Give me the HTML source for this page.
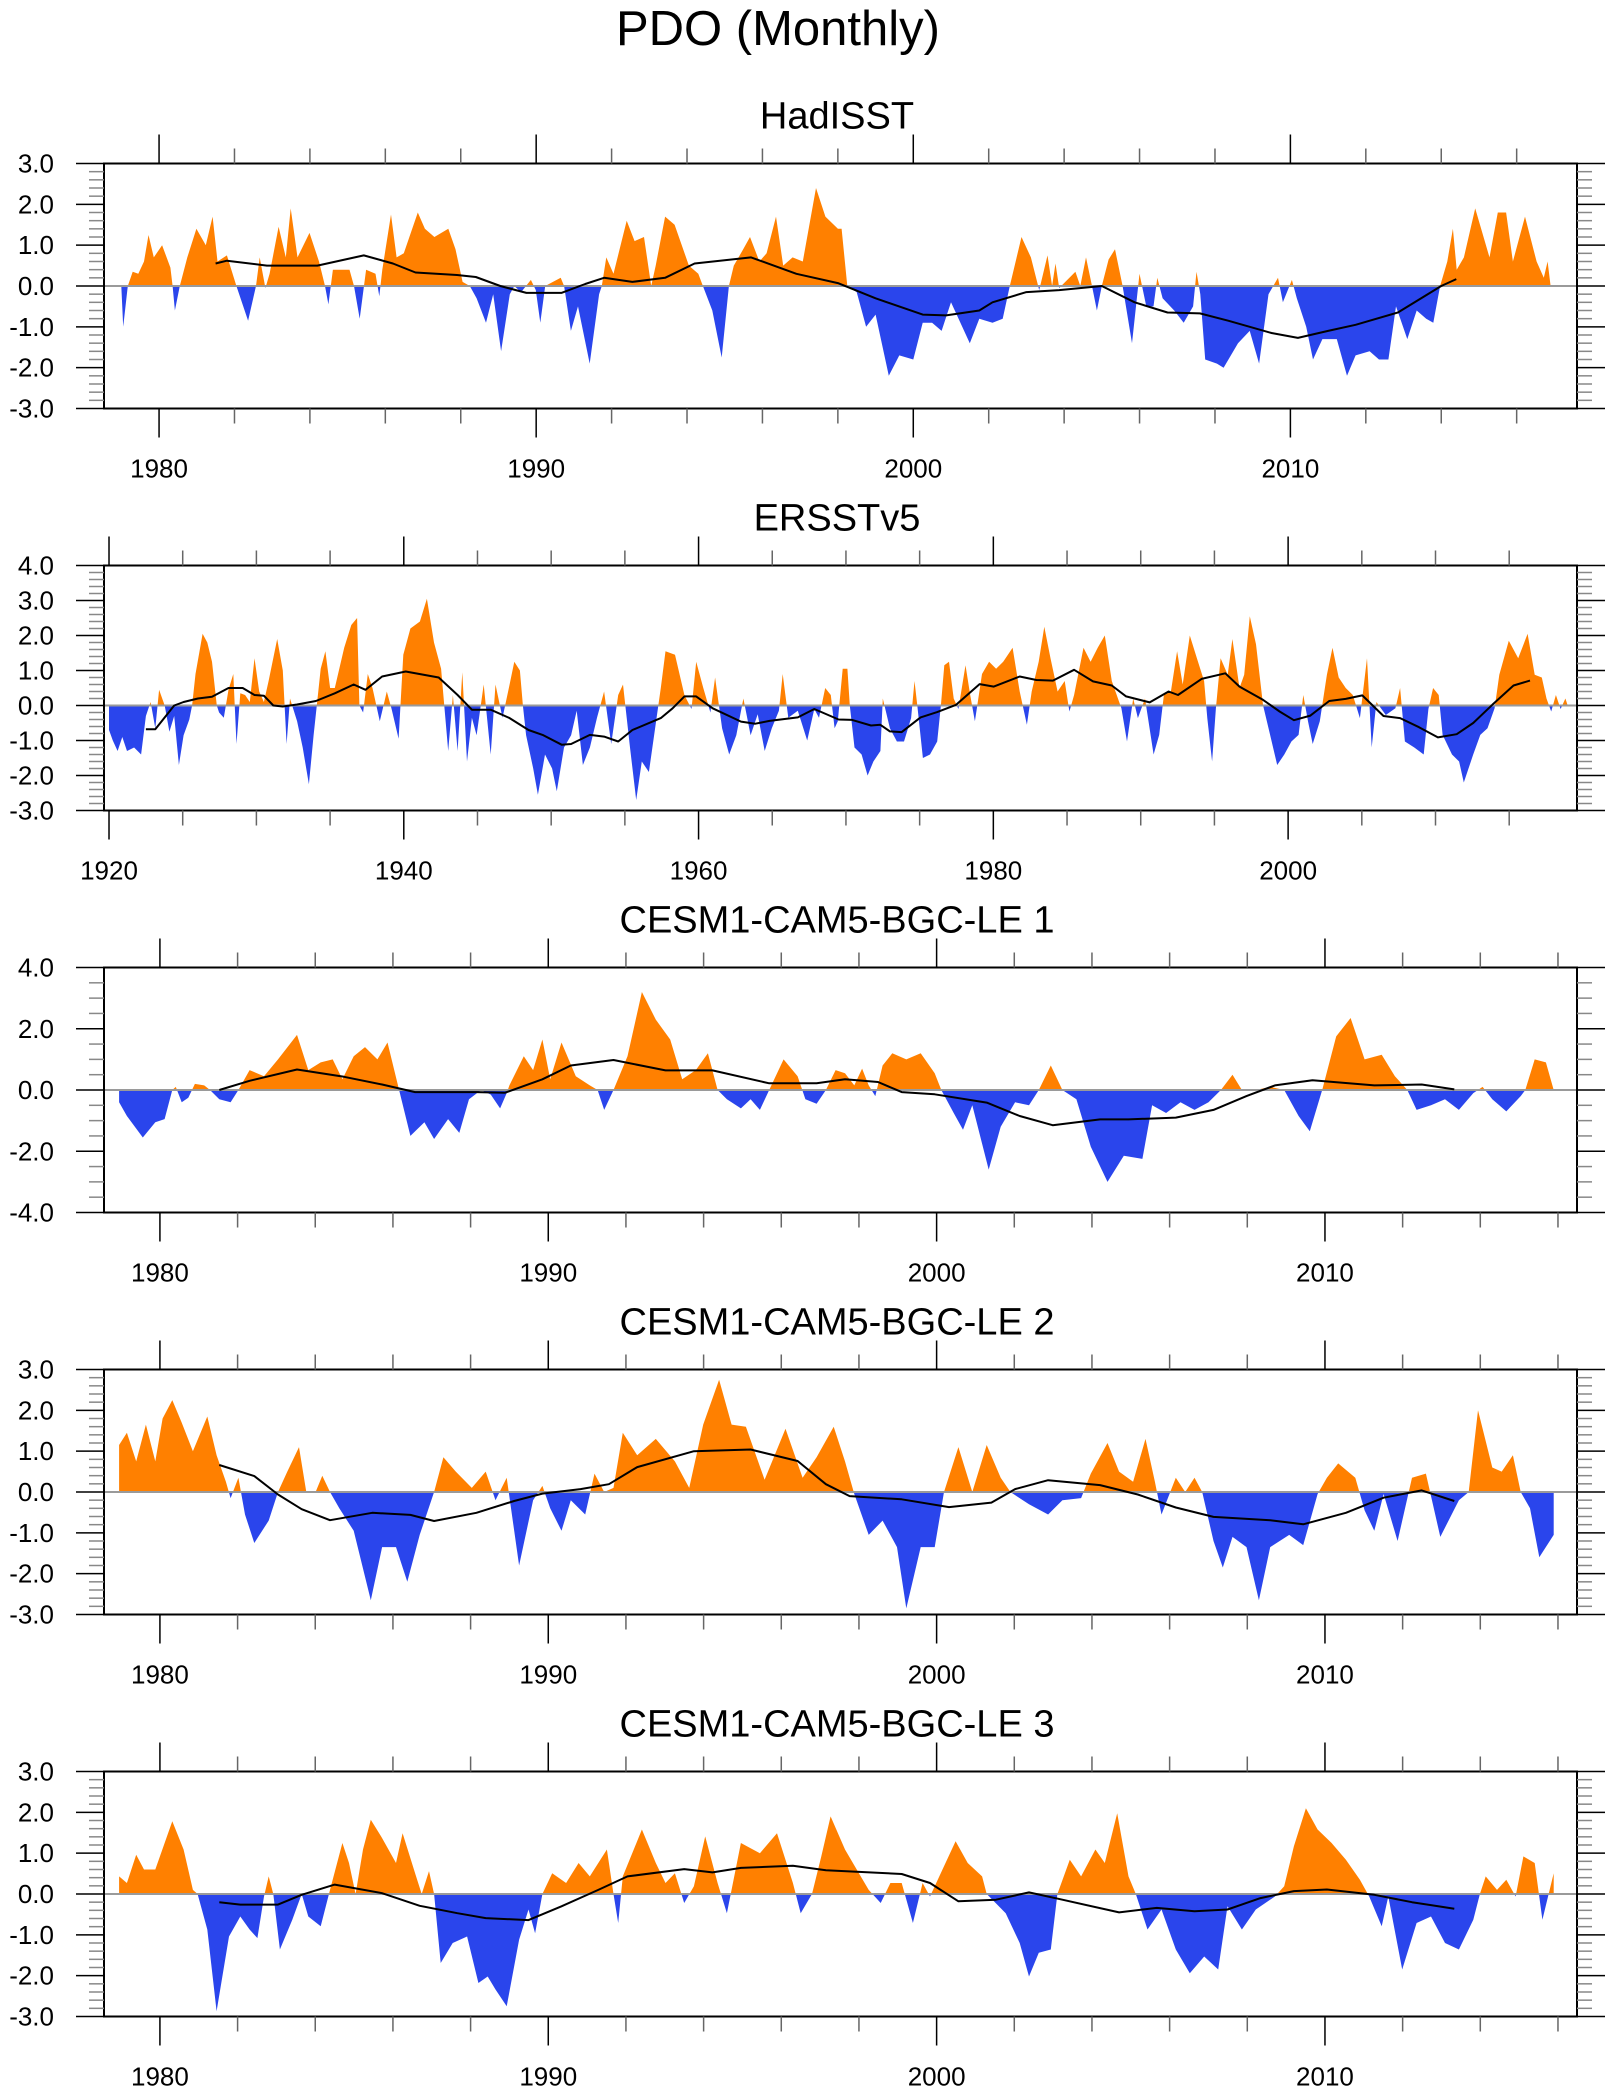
<!DOCTYPE html>
<html><head><meta charset="utf-8"><title>PDO (Monthly)</title>
<style>
html,body{margin:0;padding:0;background:#fff;}
svg{display:block;font-family:"Liberation Sans",Arial,sans-serif;}
</style></head>
<body>
<svg id="chart" width="1615" height="2097" viewBox="0 0 1615 2097" xmlns="http://www.w3.org/2000/svg">
<text x="778" y="45" font-size="49" text-anchor="middle">PDO (Monthly)</text>
</svg>
<script>
// ---------- HadISST ----------
const p1Times=[1979.0,1979.05,1979.17,1979.3,1979.45,1979.6,1979.72,1979.86,1980.08,1980.3,1980.36,1980.42,1980.55,1980.75,1980.99,1981.24,1981.42,1981.55,1981.8,1982.05,1982.36,1982.57,1982.67,1982.82,1982.93,1983.17,1983.36,1983.49,1983.67,1983.99,1984.24,1984.4,1984.49,1984.61,1985.05,1985.17,1985.32,1985.49,1985.74,1985.84,1985.92,1986.15,1986.3,1986.49,1986.86,1987.05,1987.3,1987.67,1987.86,1988.05,1988.24,1988.42,1988.67,1988.86,1989.07,1989.3,1989.42,1989.6,1989.86,1989.99,1990.11,1990.24,1990.65,1990.74,1990.92,1991.11,1991.42,1991.67,1991.74,1991.86,1992.05,1992.4,1992.61,1992.86,1993.05,1993.17,1993.42,1993.67,1994.05,1994.3,1994.42,1994.67,1994.92,1995.11,1995.24,1995.49,1995.67,1995.92,1996.11,1996.36,1996.55,1996.8,1997.07,1997.42,1997.67,1998.0,1998.1,1998.25,1998.5,1998.75,1999.0,1999.35,1999.63,2000.0,2000.25,2000.5,2000.75,2001.0,2001.25,2001.5,2001.75,2002.1,2002.37,2002.56,2002.87,2003.12,2003.34,2003.56,2003.68,2003.77,2003.87,2004.3,2004.43,2004.58,2004.74,2004.87,2005.0,2005.18,2005.35,2005.55,2005.8,2006.0,2006.18,2006.37,2006.47,2006.61,2006.92,2007.17,2007.42,2007.51,2007.61,2007.74,2008.05,2008.23,2008.61,2008.92,2009.17,2009.42,2009.67,2009.8,2010.04,2010.17,2010.42,2010.6,2010.85,2011.23,2011.5,2011.73,2012.1,2012.35,2012.6,2012.8,2013.1,2013.35,2013.6,2013.79,2013.97,2014.16,2014.31,2014.41,2014.6,2014.9,2015.28,2015.5,2015.72,2015.9,2016.22,2016.53,2016.72,2016.82,2016.9];
const p1Values=[0,-1.0,0,0.35,0.3,0.6,1.25,0.7,1.0,0.45,0,-0.6,0,0.7,1.4,1.0,1.7,0.6,0.75,0,-0.85,0,0.7,-0.05,0.3,1.45,0.7,1.9,0.7,1.3,0.6,0,-0.45,0.4,0.4,0,-0.8,0.4,0.3,-0.25,0.4,1.75,0.7,0.8,1.8,1.4,1.2,1.4,0.9,0.1,0,-0.3,-0.9,-0.2,-1.6,-0.2,0,-0.15,0.15,-0.1,-0.9,0,0.2,0,-1.1,-0.5,-1.9,-0.2,0,0.7,0.3,1.6,1.1,1.2,0,0.5,1.7,1.5,0.5,0.3,0,-0.6,-1.75,0,0.5,0.9,1.2,0.6,0.8,1.7,0.5,0.7,0.6,2.4,1.7,1.4,1.4,0,-0.15,-1.0,-0.7,-2.2,-1.7,-1.8,-0.9,-0.9,-1.1,-0.4,-0.9,-1.4,-0.8,-0.9,-0.8,0,1.2,0.7,-0.1,0.75,0,0.55,-0.05,0.35,0,0.7,0,-0.6,0,0.65,0.9,0,-1.4,0.3,-0.5,-0.5,0.2,-0.3,-0.6,-0.9,-0.5,0.35,-0.2,-1.8,-1.9,-2.0,-1.4,-1.1,-1.9,-0.2,0.2,-0.4,0.15,-0.3,-1.0,-1.8,-1.3,-1.3,-2.2,-1.7,-1.6,-1.8,-1.8,-0.5,-1.3,-0.6,-0.8,-0.9,0,0.6,1.4,0.4,0.7,1.9,0.7,1.8,1.8,0.6,1.7,0.6,0.2,0.6,0];
const p1SmoothTimes=[1981.5,1981.8,1982.86,1984.2,1985.43,1986.2,1986.8,1987.9,1988.4,1989.05,1989.74,1990.67,1991.3,1991.8,1992.55,1993.42,1994.2,1995.7,1996.9,1998.0,1999.0,2000.25,2000.87,2001.75,2002.1,2003.0,2003.87,2005.0,2005.87,2006.74,2007.6,2008.35,2009.5,2010.2,2011.0,2011.73,2012.85,2014.0,2014.4];
const p1SmoothValues=[0.55,0.62,0.5,0.5,0.75,0.55,0.33,0.27,0.22,0.0,-0.17,-0.17,0.05,0.2,0.1,0.2,0.55,0.7,0.3,0.07,-0.3,-0.7,-0.72,-0.6,-0.4,-0.15,-0.1,0.0,-0.4,-0.65,-0.67,-0.85,-1.15,-1.27,-1.1,-0.95,-0.65,0.0,0.17];

// ---------- ERSSTv5 ----------
const p2Times=[1920.0,1920.26,1920.58,1920.9,1921.22,1921.7,1922.18,1922.5,1922.82,1923.14,1923.4,1923.78,1924.1,1924.42,1924.74,1925.06,1925.45,1925.64,1925.87,1926.35,1926.67,1926.99,1927.31,1927.47,1927.79,1928.11,1928.43,1928.65,1928.91,1929.23,1929.55,1929.87,1930.19,1930.51,1930.83,1931.41,1931.79,1932.05,1932.28,1932.76,1933.14,1933.56,1933.88,1934.1,1934.36,1934.68,1935.0,1935.32,1935.96,1936.44,1936.83,1936.99,1937.24,1937.56,1937.88,1938.37,1938.85,1939.17,1939.65,1939.97,1940.45,1941.09,1941.57,1942.05,1942.53,1943.01,1943.33,1943.65,1943.97,1944.29,1944.62,1944.94,1945.42,1945.9,1946.22,1946.7,1947.18,1947.5,1947.88,1948.08,1948.3,1948.78,1949.1,1949.58,1950.06,1950.38,1950.87,1951.35,1951.73,1952.15,1952.63,1953.11,1953.59,1954.07,1954.55,1954.87,1955.35,1955.77,1956.15,1956.63,1957.12,1957.44,1957.76,1958.4,1959.04,1959.52,1959.84,1960.32,1960.8,1961.12,1961.6,1962.08,1962.56,1963.04,1963.53,1964.01,1964.49,1964.97,1965.45,1965.71,1966.09,1966.73,1967.37,1967.85,1968.17,1968.59,1968.97,1969.23,1969.45,1969.78,1970.1,1970.26,1970.58,1971.06,1971.47,1971.86,1972.34,1972.5,1972.98,1973.46,1973.94,1974.42,1974.65,1974.84,1975.22,1975.7,1976.19,1976.44,1976.67,1976.99,1977.31,1977.63,1978.11,1978.43,1978.75,1979.23,1979.71,1980.19,1980.67,1981.31,1981.79,1982.28,1982.6,1983.08,1983.46,1983.88,1984.36,1984.84,1985.16,1985.48,1986.12,1986.6,1987.08,1987.56,1988.04,1988.69,1989.07,1989.49,1989.81,1990.29,1990.87,1991.25,1991.57,1992.05,1992.47,1992.85,1993.33,1993.81,1994.3,1994.52,1994.84,1995.1,1995.42,1995.9,1996.22,1996.7,1997.02,1997.4,1997.82,1998.3,1998.78,1999.26,1999.74,2000.22,2000.71,2001.03,2001.35,2001.67,2002.15,2002.63,2003.01,2003.43,2003.91,2004.39,2004.87,2005.35,2005.67,2005.99,2006.63,2007.28,2007.6,2007.92,2008.56,2009.2,2009.52,2009.84,2010.22,2010.48,2011.12,2011.6,2011.92,2012.56,2013.04,2013.53,2014.01,2014.33,2014.97,2015.61,2016.25,2016.73,2017.21,2017.53,2017.85,2018.17,2018.49,2018.81,2018.97];
const p2Values=[-0.7,-1.0,-1.3,-0.9,-1.3,-1.2,-1.4,-0.3,0.1,-0.65,0.45,0,-0.75,-0.3,-1.7,-0.85,-0.4,0,0.9,2.05,1.8,1.25,0,-0.2,-0.35,0.45,0.9,-1.1,0.35,0.3,0.1,1.35,0.4,0.1,0.7,1.9,1.0,-1.1,0.2,-0.45,-1.2,-2.25,-0.85,0,1.05,1.55,0.5,0.5,1.65,2.3,2.5,0,-0.2,0.9,0.5,-0.45,0.4,-0.1,-0.95,1.45,2.2,2.4,3.05,1.8,1.05,-1.3,0.3,-1.3,0.95,-1.6,-0.35,-0.85,0.6,-1.4,0.6,-0.35,0.6,1.25,1.0,0,-0.85,-1.8,-2.55,-1.4,-1.8,-2.45,-1.2,-0.85,-0.15,-1.7,-1.2,-0.35,0.4,-1.1,0.3,0.6,-1.2,-2.7,-1.6,-1.9,-0.45,0.5,1.55,1.45,0.3,-0.1,1.25,0.5,-0.2,0.8,-0.65,-1.4,-0.85,0.2,-0.85,-0.25,-1.3,-0.65,-0.15,0.9,-0.35,-0.15,-1.0,-0.1,-0.35,0.5,0.3,-0.65,-0.45,1.05,1.05,0,-1.2,-1.4,-2.0,-1.6,-1.3,0.2,-0.65,-1.03,-1.03,-0.36,0.7,0,-1.5,-1.4,-1.03,0,1.15,1.25,0.2,-0.1,1.15,0.3,-0.45,0.9,1.25,1.05,1.25,1.65,0.4,-0.55,0.4,1.25,2.25,1.35,0.4,0.7,-0.17,0.3,1.65,1.25,1.65,2.0,0.7,-0.08,-1.03,0.2,-0.36,0.2,-1.4,-0.84,0.3,0.4,1.55,0.6,2.0,1.35,0.7,-0.36,-1.6,-0.08,1.35,0.88,1.9,0.5,0.88,2.55,1.75,0,-0.84,-1.7,-1.4,-1.03,-0.84,0.3,-0.45,-1.1,-0.45,0.88,1.65,0.8,0.5,0.3,-0.36,1.35,-1.2,0.1,-0.27,-0.08,0.5,-1.03,-1.2,-1.4,-0.1,0.5,0.3,-0.84,-1.4,-1.6,-2.2,-1.4,-0.84,-0.65,-0.08,0.88,1.85,1.35,2.05,0.88,0.8,0.2,-0.17,0.3,-0.1,0.2,0];
const p2SmoothTimes=[1922.5,1923.14,1924.42,1925.06,1926.03,1926.99,1928.11,1929.07,1929.87,1930.51,1931.15,1931.79,1932.76,1934.04,1935.32,1936.6,1937.4,1938.53,1940.13,1942.37,1943.65,1944.62,1945.9,1947.18,1948.46,1949.42,1950.71,1951.35,1952.63,1953.59,1954.55,1955.51,1957.44,1958.24,1959.04,1959.84,1960.96,1962.88,1963.85,1964.81,1966.73,1967.85,1969.5,1970.42,1971.7,1972.34,1972.98,1973.78,1975.06,1976.19,1977.47,1979.07,1980.03,1981.79,1982.92,1984.04,1985.48,1986.76,1988.04,1989.01,1990.61,1991.89,1992.53,1994.13,1995.74,1996.7,1998.3,1999.42,2000.39,2001.51,2002.79,2003.91,2005.03,2006.47,2007.6,2008.88,2010.16,2011.44,2012.56,2013.85,2015.29,2016.41];
const p2SmoothValues=[-0.68,-0.68,0,0.1,0.2,0.25,0.5,0.5,0.3,0.28,0,-0.03,0.03,0.13,0.35,0.6,0.45,0.83,0.97,0.8,0.3,-0.12,-0.12,-0.36,-0.7,-0.84,-1.12,-1.1,-0.84,-0.89,-1.03,-0.7,-0.36,-0.08,0.26,0.26,-0.08,-0.46,-0.52,-0.44,-0.34,-0.1,-0.4,-0.41,-0.57,-0.55,-0.74,-0.76,-0.34,-0.19,0.02,0.61,0.54,0.83,0.73,0.71,1.02,0.69,0.57,0.26,0.09,0.4,0.3,0.76,0.92,0.54,0.16,-0.17,-0.42,-0.29,0.13,0.19,0.29,-0.3,-0.36,-0.62,-0.91,-0.82,-0.5,0.02,0.57,0.71];

// ---------- CESM1-CAM5-BGC-LE 1 ----------
const p3Times=[1978.95,1979.15,1979.56,1979.88,1980.12,1980.32,1980.41,1980.56,1980.73,1980.9,1981.14,1981.29,1981.53,1981.82,1982.02,1982.31,1982.68,1983.04,1983.53,1983.82,1984.14,1984.45,1984.7,1984.99,1985.28,1985.6,1985.86,1986.16,1986.45,1986.81,1987.06,1987.42,1987.71,1987.96,1988.27,1988.52,1988.76,1988.93,1989.0,1989.37,1989.61,1989.85,1990.05,1990.34,1990.71,1991.07,1991.27,1991.44,1991.68,1992.04,1992.41,1992.77,1993.14,1993.45,1993.8,1994.11,1994.36,1994.6,1994.96,1995.21,1995.45,1995.69,1996.06,1996.42,1996.62,1996.91,1997.15,1997.4,1997.64,1997.88,1998.08,1998.25,1998.42,1998.61,1998.86,1999.22,1999.59,1999.95,2000.12,2000.44,2000.68,2000.92,2001.34,2001.65,2002.02,2002.38,2002.63,2002.94,2003.24,2003.6,2003.97,2004.4,2004.82,2005.3,2005.55,2005.91,2006.28,2006.64,2007.0,2007.32,2007.62,2007.86,2008.22,2008.59,2008.95,2009.32,2009.61,2009.93,2010.29,2010.66,2011.02,2011.46,2011.8,2012.12,2012.36,2012.73,2013.09,2013.45,2013.82,2014.06,2014.31,2014.67,2015.04,2015.16,2015.4,2015.69,2015.89];
const p3Values=[-0.4,-0.85,-1.55,-1.05,-0.95,0,0.1,-0.4,-0.25,0.2,0.15,0,-0.3,-0.4,0,0.65,0.45,1.0,1.8,0.65,0.9,1.0,0.35,1.1,1.4,1.0,1.55,0,-1.5,-1.05,-1.6,-0.95,-1.4,-0.3,0,-0.15,-0.6,-0.1,0.15,1.1,0.65,1.65,0.35,1.55,0.45,0.15,0,-0.65,0,1.1,3.2,2.3,1.65,0.35,0.65,1.2,0,-0.3,-0.6,-0.3,-0.65,0,1.0,0.45,-0.3,-0.45,0,0.65,0.55,0.15,0.7,0.15,-0.2,0.8,1.2,1.0,1.2,0.55,0,-0.75,-1.3,-0.5,-2.6,-1.2,-0.4,-0.5,0,0.8,0,-0.3,-1.85,-3.0,-2.15,-2.25,-0.5,-0.75,-0.4,-0.65,-0.4,0,0.5,0,0,0.1,0,-0.85,-1.35,0,1.75,2.35,1.0,1.15,0.45,0,-0.65,-0.5,-0.3,-0.65,-0.1,0.1,-0.3,-0.7,-0.2,0,1.0,0.9,0];
const p3SmoothTimes=[1981.53,1982.31,1983.53,1984.74,1985.72,1986.57,1988.15,1988.88,1989.85,1990.58,1991.68,1993.02,1994.23,1995.69,1996.91,1997.64,1998.49,1999.1,1999.95,2001.29,2002.14,2002.99,2004.21,2004.94,2006.16,2007.13,2007.98,2008.71,2009.68,2011.27,2012.49,2013.33];
const p3SmoothValues=[0,0.3,0.67,0.43,0.18,-0.07,-0.07,-0.09,0.35,0.8,0.98,0.64,0.64,0.22,0.22,0.35,0.26,-0.07,-0.14,-0.41,-0.85,-1.15,-0.96,-0.96,-0.9,-0.65,-0.2,0.15,0.32,0.15,0.18,0.02];

// ---------- CESM1-CAM5-BGC-LE 2 ----------
const p4Times=[1978.95,1979.15,1979.39,1979.64,1979.88,1980.07,1980.32,1980.56,1980.85,1981.22,1981.46,1981.7,1981.82,1982.02,1982.19,1982.43,1982.8,1983.04,1983.28,1983.58,1983.77,1984.01,1984.18,1984.38,1984.62,1984.99,1985.43,1985.72,1986.08,1986.37,1986.69,1987.06,1987.3,1987.62,1988.03,1988.39,1988.64,1988.93,1989.25,1989.61,1989.85,1990.05,1990.34,1990.58,1990.95,1991.19,1991.44,1991.68,1991.92,1992.29,1992.77,1993.26,1993.63,1993.99,1994.4,1994.72,1995.09,1995.57,1996.11,1996.55,1996.91,1997.35,1997.64,1997.88,1998.25,1998.61,1998.98,1999.22,1999.59,1999.95,2000.19,2000.56,2000.92,2001.29,2001.65,2001.9,2002.38,2002.87,2003.24,2003.72,2003.97,2004.4,2004.7,2005.06,2005.38,2005.62,2005.79,2006.16,2006.4,2006.64,2006.84,2007.13,2007.37,2007.62,2007.98,2008.3,2008.59,2009.08,2009.44,2009.81,2010.05,2010.34,2010.78,2011.02,2011.27,2011.51,2011.87,2012.24,2012.6,2012.97,2013.45,2013.7,2013.94,2014.31,2014.55,2014.84,2015.04,2015.28,2015.52,2015.89];
const p4Values=[1.15,1.45,0.75,1.65,0.75,1.8,2.25,1.7,1.0,1.85,0.9,0.25,-0.15,0.35,-0.55,-1.25,-0.7,0,0.5,1.1,0,0,0.4,0,-0.4,-0.95,-2.65,-1.35,-1.35,-2.2,-1.05,0,0.85,0.5,0.1,0.5,-0.2,0.35,-1.8,-0.2,0.15,-0.4,-0.95,-0.2,-0.55,0.45,0,0.1,1.45,0.9,1.3,0.75,0.1,1.65,2.75,1.65,1.6,0.3,1.55,0.35,0.85,1.6,0.75,-0.05,-1.05,-0.7,-1.35,-2.85,-1.35,-1.35,0,1.1,0,1.15,0.35,0,-0.3,-0.55,-0.2,-0.15,0.45,1.2,0.5,0.25,1.3,0.25,-0.55,0.35,0,0.35,0,-1.2,-1.85,-1.1,-1.35,-2.65,-1.35,-1.05,-1.3,-0.05,0.35,0.7,0.35,-0.45,-0.95,-0.05,-1.2,0.35,0.45,-1.1,-0.2,0,2.0,0.6,0.5,0.9,0,-0.4,-1.6,-1.05];
const p4SmoothTimes=[1981.53,1982.43,1983.04,1983.65,1984.38,1985.47,1986.45,1987.06,1988.15,1989.12,1989.85,1990.83,1991.56,1992.29,1993.75,1995.21,1996.42,1997.15,1997.76,1999.1,2000.32,2001.41,2002.02,2002.87,2004.21,2005.18,2006.16,2007.13,2008.59,2009.44,2010.54,2011.51,2012.49,2013.33];
const p4SmoothValues=[0.66,0.39,-0.06,-0.42,-0.69,-0.51,-0.56,-0.71,-0.51,-0.22,-0.04,0.07,0.19,0.61,1.0,1.04,0.76,0.19,-0.1,-0.18,-0.37,-0.26,0.07,0.29,0.17,-0.06,-0.38,-0.61,-0.69,-0.79,-0.51,-0.14,0.04,-0.22];

// ---------- CESM1-CAM5-BGC-LE 3 ----------
const p5Times=[1978.95,1979.15,1979.39,1979.59,1979.88,1980.32,1980.61,1980.85,1980.97,1981.22,1981.46,1981.78,1982.07,1982.31,1982.51,1982.68,1982.8,1982.92,1983.09,1983.41,1983.65,1983.82,1984.14,1984.38,1984.7,1984.87,1985.04,1985.23,1985.43,1985.72,1986.08,1986.25,1986.57,1986.74,1986.93,1987.06,1987.23,1987.54,1987.91,1988.2,1988.44,1988.64,1988.93,1989.25,1989.49,1989.66,1989.85,1990.1,1990.46,1990.78,1991.07,1991.51,1991.68,1991.8,1991.92,1992.41,1992.77,1993.02,1993.26,1993.5,1993.75,1994.04,1994.36,1994.6,1994.96,1995.45,1995.89,1996.3,1996.5,1996.79,1997.03,1997.27,1997.64,1998.0,1998.25,1998.56,1998.81,1999.1,1999.39,1999.64,1999.83,2000.19,2000.49,2000.8,2001.17,2001.29,2001.78,2002.14,2002.38,2002.63,2002.94,2003.11,2003.43,2003.72,2004.09,2004.33,2004.65,2004.94,2005.13,2005.43,2005.79,2006.16,2006.52,2006.89,2007.25,2007.49,2007.86,2008.22,2008.71,2008.95,2009.2,2009.51,2009.81,2010.17,2010.54,2010.9,2011.14,2011.46,2011.63,2011.99,2012.36,2012.73,2013.09,2013.45,2013.82,2013.99,2014.14,2014.43,2014.67,2014.91,2015.11,2015.4,2015.6,2015.89];
const p5Values=[0.43,0.27,0.96,0.6,0.6,1.78,1.09,0.1,0,-0.87,-2.87,-1.04,-0.55,-0.87,-1.08,-0.06,0.43,0,-1.36,-0.63,0,-0.55,-0.79,0.1,1.25,0.76,0,1.09,1.82,1.37,0.76,1.49,0.51,0,0.56,0,-1.69,-1.2,-1.04,-2.18,-2.02,-2.34,-2.75,-1.12,-0.38,-0.96,0,0.51,0.27,0.76,0.43,1.09,0,-0.71,0.43,1.58,0.76,0.27,0.51,-0.22,0.19,1.41,0.27,-0.47,1.25,1.0,1.49,0.27,-0.47,0,0.92,1.9,1.09,0.51,0.1,-0.22,0.27,0.27,-0.71,0.27,-0.06,0.68,1.29,0.76,0.43,0,-0.47,-1.2,-2.02,-1.44,-1.36,0,0.84,0.43,1.09,0.76,1.98,0.43,0,-0.87,-0.38,-1.36,-1.94,-1.53,-1.85,-0.3,-0.87,-0.38,-0.06,0.19,1.17,2.1,1.58,1.25,0.84,0.35,-0.06,-0.79,-0.06,-1.85,-0.71,-0.55,-1.2,-1.36,-0.63,0,0.43,0.1,0.35,-0.06,0.92,0.76,-0.63,0.51];
const p5SmoothTimes=[1981.53,1982.07,1983.04,1983.65,1984.5,1985.72,1986.69,1987.66,1988.39,1989.49,1990.34,1991.31,1992.04,1993.5,1994.23,1994.96,1996.3,1997.15,1999.1,1999.83,2000.56,2001.53,2002.38,2003.24,2004.7,2005.67,2006.64,2007.49,2008.34,2009.2,2010.05,2011.27,2012.24,2013.33];
const p5SmoothValues=[-0.2,-0.26,-0.26,-0.02,0.23,0.02,-0.29,-0.47,-0.59,-0.64,-0.3,0.11,0.43,0.61,0.53,0.64,0.69,0.58,0.49,0.27,-0.18,-0.14,0.04,-0.14,-0.45,-0.34,-0.42,-0.38,-0.1,0.07,0.11,-0.02,-0.2,-0.36];

// ---------- axis labels ----------
const panelTitles=["HadISST","ERSSTv5","CESM1-CAM5-BGC-LE 1","CESM1-CAM5-BGC-LE 2","CESM1-CAM5-BGC-LE 3"];
const yTickLabels1=["3.0","2.0","1.0","0.0","-1.0","-2.0","-3.0"];
const yTickLabels2=["4.0","3.0","2.0","1.0","0.0","-1.0","-2.0","-3.0"];
const yTickLabels3=["4.0","2.0","0.0","-2.0","-4.0"];
const xTickLabelsDecade=["1980","1990","2000","2010"];
const xTickLabelsErsst=["1920","1940","1960","1980","2000"];

const NS="http://www.w3.org/2000/svg";
const svg=document.getElementById("chart");
function mk(tag,attrs,parent){const e=document.createElementNS(NS,tag);for(const k in attrs)e.setAttribute(k,attrs[k]);(parent||svg).appendChild(e);return e;}

const L=104,R=1577,H=245;
const panels=[
 {t:p1Times,v:p1Values,st:p1SmoothTimes,sv:p1SmoothValues,xmin:1978.54,xmax:2017.6,ymin:-3,ymax:3,yl:yTickLabels1,ymaj:1,ymin_step:0.2,xl:xTickLabelsDecade,xmaj0:1980,xmaj:10,xminor:2,xminorStart:1980,xminorEnd:2016},
 {t:p2Times,v:p2Values,st:p2SmoothTimes,sv:p2SmoothValues,xmin:1919.66,xmax:2019.6,ymin:-3,ymax:4,yl:yTickLabels2,ymaj:1,ymin_step:0.2,xl:xTickLabelsErsst,xmaj0:1920,xmaj:20,xminor:5,xminorStart:1920,xminorEnd:2015},
 {t:p3Times,v:p3Values,st:p3SmoothTimes,sv:p3SmoothValues,xmin:1978.56,xmax:2016.49,ymin:-4,ymax:4,yl:yTickLabels3,ymaj:2,ymin_step:0.5,xl:xTickLabelsDecade,xmaj0:1980,xmaj:10,xminor:2,xminorStart:1980,xminorEnd:2016},
 {t:p4Times,v:p4Values,st:p4SmoothTimes,sv:p4SmoothValues,xmin:1978.56,xmax:2016.49,ymin:-3,ymax:3,yl:yTickLabels1,ymaj:1,ymin_step:0.2,xl:xTickLabelsDecade,xmaj0:1980,xmaj:10,xminor:2,xminorStart:1980,xminorEnd:2016},
 {t:p5Times,v:p5Values,st:p5SmoothTimes,sv:p5SmoothValues,xmin:1978.56,xmax:2016.49,ymin:-3,ymax:3,yl:yTickLabels1,ymaj:1,ymin_step:0.2,xl:xTickLabelsDecade,xmaj0:1980,xmaj:10,xminor:2,xminorStart:1980,xminorEnd:2016}
];

panels.forEach((p,i)=>{
  const top=163.5+402*i, bot=top+H;
  const g=mk("g",{});
  
  
  const xs=t=>L+(t-p.xmin)/(p.xmax-p.xmin)*(R-L);
  const ys=v=>top+(p.ymax-v)/(p.ymax-p.ymin)*H;
  const y0=ys(0);
  const ti=mk("text",{x:837,y:top-35,"font-size":38,"text-anchor":"middle"},g);
  ti.textContent=panelTitles[i];
  
  
  const defs=mk("defs",{},g);
  const cu=mk("clipPath",{id:"cu"+i},defs); mk("rect",{x:L,y:top,width:R-L,height:y0-top},cu);
  const cd=mk("clipPath",{id:"cd"+i},defs); mk("rect",{x:L,y:y0,width:R-L,height:bot-y0},cd);
  let d="M"+xs(p.t[0]).toFixed(1)+","+y0.toFixed(1);
  for(let k=0;k<p.t.length;k++) d+="L"+xs(p.t[k]).toFixed(1)+","+ys(p.v[k]).toFixed(1);
  d+="L"+xs(p.t[p.t.length-1]).toFixed(1)+","+y0.toFixed(1)+"Z";
  const pos=mk("path",{d:d,fill:"#ff8000","clip-path":"url(#cu"+i+")"},g);
  
  
  const neg=mk("path",{d:d,fill:"#2a45ec","clip-path":"url(#cd"+i+")"},g);
  
  
  const zl=mk("line",{x1:L,x2:R,y1:y0,y2:y0,stroke:"#9a9a9a","stroke-width":2},g);
  
  
  let sd="";
  for(let k=0;k<p.st.length;k++) sd+=(k?"L":"M")+xs(p.st[k]).toFixed(1)+","+ys(p.sv[k]).toFixed(1);
  const sl=mk("path",{d:sd,fill:"none",stroke:"#000","stroke-width":2,"stroke-linejoin":"round"},g);
  
  
  const fr=mk("rect",{x:L,y:top,width:R-L,height:H,fill:"none",stroke:"#000","stroke-width":2},g);
  
  
  const nMin=Math.round((p.ymax-p.ymin)/p.ymin_step);
  for(let k=0;k<=nMin;k++){
    const v=p.ymin+k*p.ymin_step, y=ys(v);
    const major=Math.abs(v/p.ymaj-Math.round(v/p.ymaj))<1e-6;
    const len=major?28:15, col=major?"#000":"#888";
    mk("line",{x1:L-len,x2:L,y1:y,y2:y,stroke:col,"stroke-width":1.5},g);
    mk("line",{x1:R,x2:R+len,y1:y,y2:y,stroke:col,"stroke-width":1.5},g);
  }
  p.yl.forEach(lab=>{
    const v=parseFloat(lab);
    const tx=mk("text",{x:54,y:ys(v)+9,"font-size":26,"text-anchor":"end"},g);
    tx.textContent=lab;
    
    
  });
  for(let yr=p.xminorStart;yr<=p.xminorEnd;yr+=p.xminor){
    const x=xs(yr);
    const major=((yr-p.xmaj0)%p.xmaj)===0;
    const len=major?29:15, col=major?"#000":"#666";
    mk("line",{x1:x,x2:x,y1:top-len,y2:top,stroke:col,"stroke-width":1.5},g);
    mk("line",{x1:x,x2:x,y1:bot,y2:bot+len,stroke:col,"stroke-width":1.5},g);
  }
  p.xl.forEach(lab=>{
    const tx=mk("text",{x:xs(parseFloat(lab)),y:bot+69,"font-size":26,"text-anchor":"middle"},g);
    tx.textContent=lab;
    
    
  });
});
</script>
</body></html>
